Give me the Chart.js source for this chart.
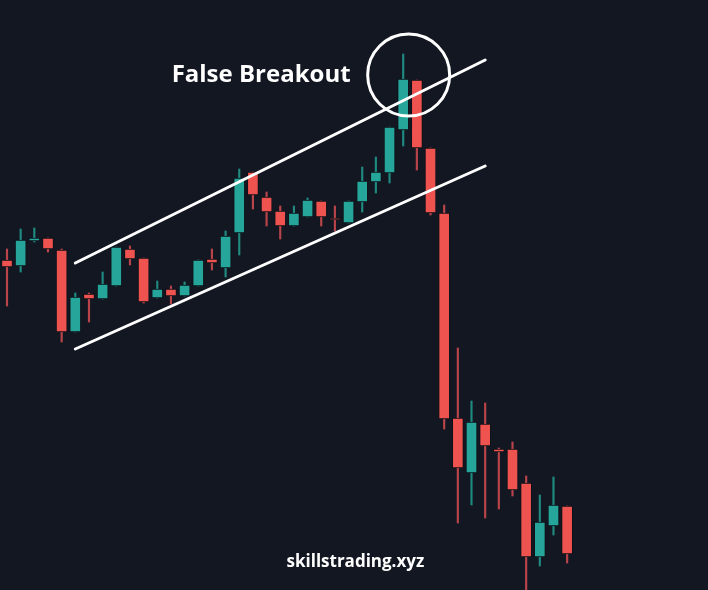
<!DOCTYPE html>
<html>
<head>
<meta charset="utf-8">
<script src="https://cdn.jsdelivr.net/npm/chart.js@4.4.1/dist/chart.umd.min.js"></script>
<style>
  html, body { margin: 0; padding: 0; background: #131722; overflow: hidden; }
  #wrap { width: 708px; height: 590px; position: relative; }
</style>
</head>
<body>
<div id="wrap"><canvas id="chart"></canvas></div>
<script>
// candle values (price units, bottom of picture = 0)
const opens  = [330, 324, 349, 352, 340, 258, 296, 291, 304, 341, 332, 292, 301, 294, 304, 331, 322, 357, 418, 393, 379,
                364, 373, 389, 372, 367, 388, 408, 417, 460, 510, 442, 377, 172, 117, 166, 141, 141, 107, 33, 64, 84];
const highs  = [341, 361, 362, 352, 341, 297, 297, 318, 343, 344, 332, 309, 304, 308, 330, 341, 359, 421, 418, 398, 384,
                384, 392, 389, 384, 389, 423, 433, 463, 536, 510, 442, 385, 242, 189, 187, 142, 148, 114, 95, 113, 84];
const lows   = [284, 318, 348, 338, 248, 258, 268, 291, 304, 325, 287, 292, 286, 294, 304, 320, 313, 335, 381, 364, 351,
                364, 373, 364, 359, 367, 378, 397, 407, 444, 420, 375, 161, 67, 85, 72, 81, 94, 0, 24, 55, 27];
const closes = [323, 350, 352, 341, 258, 293, 291, 306, 343, 331, 288, 301, 294, 305, 330, 327, 354, 412, 395, 378, 364,
                377, 390, 373, 370, 389, 409, 418, 463, 511, 442, 377, 171, 122, 168, 144, 138, 100, 33, 68, 85, 36];

// channel lines (candle index, price)
const upperChannel = [{ x: 5, y: 327 }, { x: 35, y: 530 }];
const lowerChannel = [{ x: 5, y: 241 }, { x: 35, y: 424 }];
// circled false breakout
const breakoutMark = [{ x: 29.4, y: 515 }];

const UP = "#26a69a";
const DOWN = "#ef5350";
const UP_WICK = "#1f8a80";
const DOWN_WICK = "#b9454a";

const isUp = opens.map((o, i) => closes[i] >= o);

const bodyData = opens.map((o, i) => ({ x: i, y: [o, closes[i]] }));
const wickData = lows.map((l, i) => ({ x: i, y: [l, highs[i]] }));

// texte posé avec les échelles du graphique
const textPlugin = {
  id: "labels",
  afterDatasetsDraw(chart) {
    const { ctx, scales } = chart;
    ctx.save();
    ctx.fillStyle = "#ffffff";
    ctx.textAlign = "center";
    ctx.textBaseline = "middle";
    ctx.font = "bold 24px 'Open Sans'";
    ctx.fillText("False Breakout", scales.x.getPixelForValue(18.6), scales.y.getPixelForValue(515));
    ctx.font = "bold 17px 'Open Sans'";
    ctx.fillText("skillstrading.xyz", scales.x.getPixelForValue(25.5), scales.y.getPixelForValue(28));
    ctx.restore();
  },
};

new Chart(document.getElementById("chart"), {
  type: "bar",
  data: {
    datasets: [
      {
        type: "line",
        data: upperChannel,
        borderColor: "#ffffff",
        borderWidth: 3,
        borderCapStyle: "round",
        pointRadius: 0,
        order: 0,
      },
      {
        type: "line",
        data: lowerChannel,
        borderColor: "#ffffff",
        borderWidth: 3,
        borderCapStyle: "round",
        pointRadius: 0,
        order: 0,
      },
      {
        type: "line",
        data: breakoutMark,
        showLine: false,
        pointRadius: 41,
        pointBorderWidth: 3,
        pointBorderColor: "#ffffff",
        pointBackgroundColor: "rgba(0,0,0,0)",
        clip: false,
        order: 0,
      },
      {
        data: bodyData,
        backgroundColor: isUp.map((u) => (u ? UP : DOWN)),
        borderColor: "#0e1118",
        borderWidth: 1,
        borderSkipped: false,
        barThickness: 11,
        grouped: false,
        order: 1,
      },
      {
        data: wickData,
        backgroundColor: isUp.map((u) => (u ? UP_WICK : DOWN_WICK)),
        barThickness: 1.5,
        grouped: false,
        order: 2,
      },
    ],
  },
  options: {
    responsive: true,
    maintainAspectRatio: false,
    animation: false,
    layout: { padding: 0, autoPadding: false },
    plugins: {
      legend: { display: false },
      tooltip: { enabled: false },
    },
    scales: {
      x: { type: "linear", min: -0.512, max: 51.31, display: false, offset: false },
      y: { type: "linear", min: 0, max: 590, display: false },
    },
  },
  plugins: [textPlugin],
});
</script>
</body>
</html>
